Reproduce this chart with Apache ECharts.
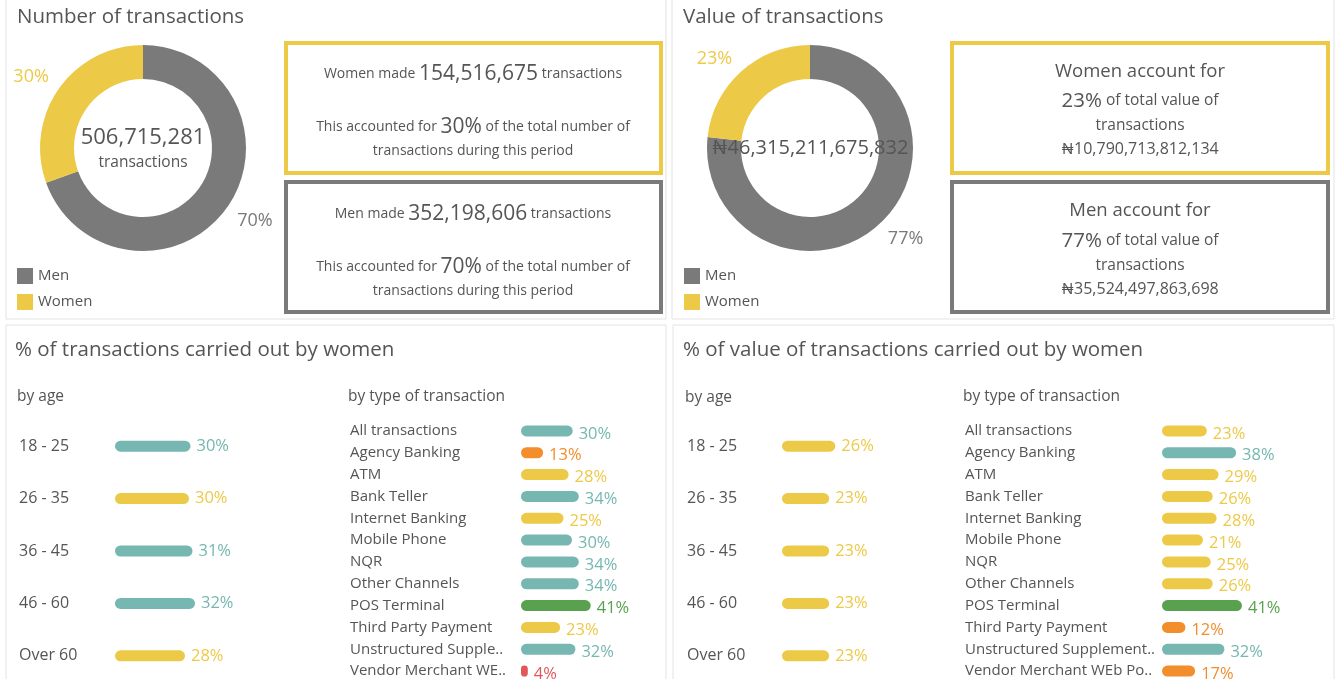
<!DOCTYPE html>
<html>
<head>
<meta charset="utf-8">
<title>Transactions by gender</title>
<script src="https://cdn.jsdelivr.net/npm/echarts/dist/echarts.min.js"></script>
<style>
  html, body { margin: 0; padding: 0; background: #fff; }
  #main { width: 1341px; height: 679px; }
</style>
</head>
<body>
<div id="main"></div>
<script>
var genders = ['Men', 'Women'];
var txnCount = [352198606, 154516675];
var txnValue = [35524497863698, 10790713812134];

var ageGroups = ['18 - 25', '26 - 35', '36 - 45', '46 - 60', 'Over 60'];
var ageCountPct = [30.2, 29.6, 31, 32, 28];
var ageValuePct = [26, 23, 23, 23, 23];

var txnTypes = ['All transactions', 'Agency Banking', 'ATM', 'Bank Teller', 'Internet Banking',
  'Mobile Phone', 'NQR', 'Other Channels', 'POS Terminal', 'Third Party Payment',
  'Unstructured Supplementary Service Data', 'Vendor Merchant WEb Portal'];
var typeCountPct = [30.4, 13, 28, 34, 25, 30, 34, 34, 41, 23, 32, 4];
var typeValuePct = [23, 38, 29, 26, 28, 21, 25, 26, 41, 12, 32, 17];

var GREY = '#7a7a7a', YELLOW = '#edc948', TEAL = '#76b7b2', ORANGE = '#f28e2b', GREEN = '#59a14f', RED = '#e15759';
var TXT = '#555';
var FONT = '"Open Sans", Lato, "DejaVu Sans", sans-serif';

function sum(a) { return a.reduce(function (s, v) { return s + v; }, 0); }
function fmt(n) { return n.toLocaleString('en-US'); }
function pct(part, total) { return Math.round(part / total * 100) + '%'; }

// colour by share of women
function shareColor(v) {
  if (v >= 40) return GREEN;
  if (v >= 30) return TEAL;
  if (v >= 20) return YELLOW;
  if (v >= 10) return ORANGE;
  return RED;
}

function barData(arr) {
  return arr.map(function (v) {
    var c = shareColor(v);
    return { value: v, itemStyle: { color: c }, label: { color: c } };
  });
}

function pieData(arr) {
  return arr.map(function (v, i) {
    var c = i === 0 ? GREY : YELLOW;
    return { name: genders[i], value: v, itemStyle: { color: c }, label: { color: c } };
  });
}

var countTotal = sum(txnCount);
var valueTotal = sum(txnValue);

function txt(x, y, text, size, extra) {
  var st = { text: text, x: x, y: y, fontSize: size, fontFamily: FONT, fill: TXT,
    align: 'left', verticalAlign: 'middle' };
  if (extra) { for (var k in extra) st[k] = extra[k]; }
  return { type: 'text', z: 10, style: st };
}

function richLine(x, y, parts, small, big) {
  return {
    type: 'text', z: 10,
    style: {
      x: x, y: y, align: 'center', verticalAlign: 'middle', fontFamily: FONT,
      text: '{s|' + parts[0] + '}{b|' + parts[1] + '}{s|' + parts[2] + '}',
      rich: {
        s: { fontSize: small, fill: TXT, fontFamily: FONT },
        b: { fontSize: big, fill: TXT, fontFamily: FONT }
      }
    }
  };
}

function box(x, y, w, h, color, lw) {
  return { type: 'rect', z: 1, shape: { x: x, y: y, width: w, height: h },
    style: { fill: 'none', stroke: color, lineWidth: lw } };
}

var graphics = [
  box(6, -1, 660, 320, '#e3e3e3', 1),
  box(672, -1, 662, 320, '#e3e3e3', 1),
  box(6, 325, 660, 360, '#e3e3e3', 1),
  box(673, 325, 661, 360, '#e3e3e3', 1),

  txt(17, 17, 'Number of transactions', 20.5),
  txt(683, 17, 'Value of transactions', 20.5),
  txt(15, 350, '% of transactions carried out by women', 20.5),
  txt(683, 350, '% of value of transactions carried out by women', 20.5),
  txt(17, 397, 'by age', 15.5),
  txt(348, 397, 'by type of transaction', 15.5),
  txt(685, 398, 'by age', 15.5),
  txt(963, 397, 'by type of transaction', 15.5),

  // donut centres
  txt(143, 138, fmt(countTotal), 22, { align: 'center' }),
  txt(143, 163, 'transactions', 15.5, { align: 'center' }),
  txt(810, 148, '\u20a6' + fmt(valueTotal), 20, { align: 'center' }),

  // number of transactions boxes
  box(286, 43, 375, 130, YELLOW, 4),
  richLine(473, 74, ['Women made ', fmt(txnCount[1]), ' transactions'], 14, 21),
  richLine(473, 127, ['This accounted for ', pct(txnCount[1], countTotal), ' of the total number of'], 14, 21),
  txt(473, 151, 'transactions during this period', 14, { align: 'center' }),
  box(286, 182, 375, 130, GREY, 4),
  richLine(473, 214, ['Men made ', fmt(txnCount[0]), ' transactions'], 14, 21),
  richLine(473, 267, ['This accounted for ', pct(txnCount[0], countTotal), ' of the total number of'], 14, 21),
  txt(473, 291, 'transactions during this period', 14, { align: 'center' }),

  // value of transactions boxes
  box(952, 43, 376, 130, YELLOW, 4),
  txt(1140, 72, 'Women account for', 18.5, { align: 'center' }),
  richLine(1140, 101, ['', pct(txnValue[1], valueTotal), ' of total value of'], 15.5, 20.5),
  txt(1140, 126, 'transactions', 15.5, { align: 'center' }),
  txt(1140, 149, '\u20a6' + fmt(txnValue[1]), 16, { align: 'center' }),
  box(952, 182, 376, 130, GREY, 4),
  txt(1140, 211, 'Men account for', 18.5, { align: 'center' }),
  richLine(1140, 241, ['', pct(txnValue[0], valueTotal), ' of total value of'], 15.5, 20.5),
  txt(1140, 266, 'transactions', 15.5, { align: 'center' }),
  txt(1140, 289, '\u20a6' + fmt(txnValue[0]), 16, { align: 'center' })
];

function donut(center, data) {
  return {
    type: 'pie',
    radius: [69, 103],
    center: center,
    startAngle: 90,
    clockwise: true,
    silent: true,
    data: pieData(data),
    label: {
      position: 'outside',
      fontSize: 18,
      fontFamily: FONT,
      formatter: function (p) { return Math.round(p.percent) + '%'; }
    },
    labelLine: { show: false, length: 6, length2: 0 },
    // Tableau sets its slice labels a little nearer the vertical axis
    labelLayout: function (p) {
      return { dy: p.labelRect.x < p.rect.x ? -8 : 10 };
    }
  };
}

function yCat(gridIndex, cats, margin, size, width) {
  var lab = { color: TXT, fontSize: size, fontFamily: FONT, align: 'left', margin: margin };
  if (width) { lab.width = width; lab.overflow = 'truncate'; lab.ellipsis = '..'; }
  return {
    type: 'category', gridIndex: gridIndex, data: cats, inverse: true,
    axisLine: { show: false }, axisTick: { show: false }, splitLine: { show: false },
    axisLabel: lab
  };
}

function bars(idx, values, offsetY) {
  return {
    type: 'bar', xAxisIndex: idx, yAxisIndex: idx,
    barWidth: 11,
    silent: true,
    data: barData(values),
    itemStyle: { borderRadius: 6 },
    label: {
      show: true, position: 'right', distance: 6, fontSize: 16.5, fontFamily: FONT,
      offset: [0, offsetY],
      formatter: function (p) { return Math.round(p.value) + '%'; }
    }
  };
}

function grid(left, width) {
  return { left: left, top: 420, height: 262, width: width, outerBoundsMode: 'none' };
}

var myChart = echarts.init(document.getElementById('main'));

var option = {
  animation: false,
  textStyle: { fontFamily: FONT },
  legend: [
    { data: genders, orient: 'vertical', left: 17, top: 268, padding: 0, itemWidth: 16, itemHeight: 16, itemGap: 10,
      icon: 'rect', selectedMode: false, textStyle: { color: TXT, fontSize: 15 } },
    { data: genders, orient: 'vertical', left: 684, top: 268, padding: 0, itemWidth: 16, itemHeight: 16, itemGap: 10,
      icon: 'rect', selectedMode: false, textStyle: { color: TXT, fontSize: 15 } }
  ],
  grid: [grid(115, 250), grid(521, 170), grid(782, 205), grid(1162, 195)],
  xAxis: [0, 1, 2, 3].map(function (i) {
    return { type: 'value', gridIndex: i, min: 0, max: 100, show: false };
  }),
  yAxis: [
    yCat(0, ageGroups, 96, 16),
    yCat(1, txnTypes, 171, 15, 166),
    yCat(2, ageGroups, 95, 16),
    yCat(3, txnTypes, 197, 15, 192)
  ],
  series: [
    donut([143, 148], txnCount),
    donut([810, 148], txnValue),
    bars(0, ageCountPct, 0),
    bars(1, typeCountPct, 3),
    bars(2, ageValuePct, 0),
    bars(3, typeValuePct, 3)
  ],
  graphic: graphics
};

myChart.setOption(option);
</script>
</body>
</html>
